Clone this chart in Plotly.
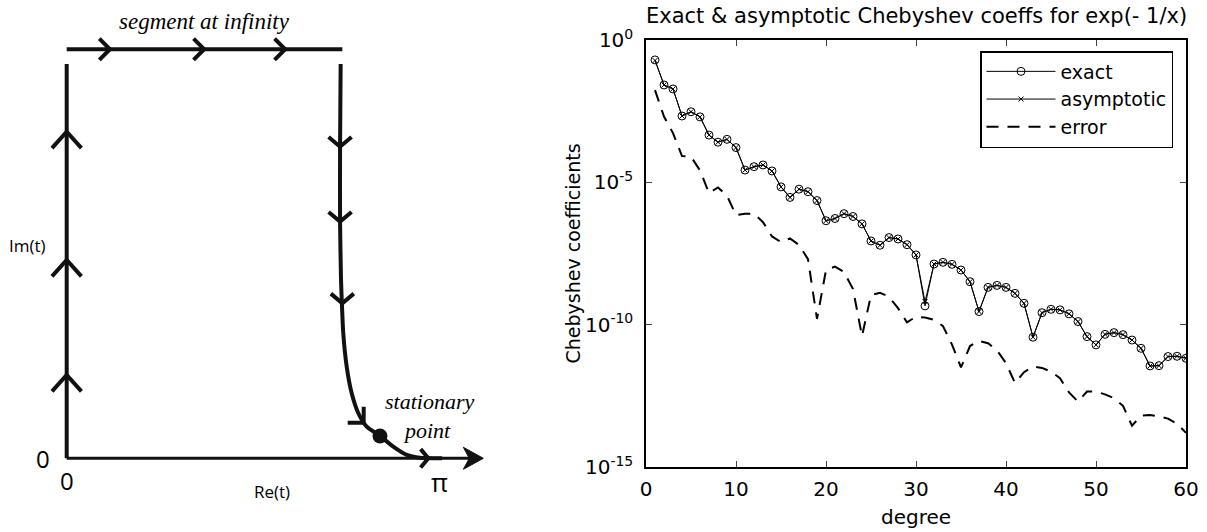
import math
import plotly.graph_objects as go

# ---------------- Right panel data (log10 of coefficient magnitudes) ----------------
degree = list(range(1, 61))
exact_log10 = [
    -0.70, -1.58, -1.72, -2.67, -2.52, -2.70, -3.34, -3.59, -3.49, -3.78,
    -4.57, -4.45, -4.39, -4.60, -5.16, -5.53, -5.24, -5.33, -5.64, -6.35,
    -6.27, -6.10, -6.20, -6.46, -7.06, -7.21, -6.94, -6.99, -7.19, -7.55,
    -9.34, -7.87, -7.81, -7.88, -8.08, -8.49, -9.54, -8.69, -8.62, -8.69,
    -8.90, -9.25, -10.44, -9.58, -9.46, -9.48, -9.62, -9.89, -10.42, -10.71,
    -10.34, -10.28, -10.35, -10.54, -10.83, -11.45, -11.44, -11.12, -11.11, -11.18,
]
asymptotic_log10 = [
    -0.72, -1.58, -1.72, -2.67, -2.52, -2.70, -3.34, -3.59, -3.49, -3.78,
    -4.57, -4.45, -4.39, -4.60, -5.16, -5.53, -5.24, -5.33, -5.64, -6.35,
    -6.27, -6.10, -6.20, -6.46, -7.06, -7.21, -6.94, -6.99, -7.19, -7.55,
    -9.19, -7.87, -7.81, -7.88, -8.08, -8.49, -9.54, -8.69, -8.62, -8.69,
    -8.90, -9.25, -10.44, -9.58, -9.46, -9.48, -9.62, -9.89, -10.42, -10.71,
    -10.34, -10.28, -10.35, -10.54, -10.83, -11.45, -11.44, -11.12, -11.11, -11.18,
]
error_log10 = [
    -1.76, -2.69, -3.27, -4.08, -4.10, -4.58, -5.38, -5.18, -5.47, -6.15,
    -6.10, -6.10, -6.40, -6.90, -7.10, -6.97, -7.20, -7.70, -9.80, -8.08,
    -7.96, -8.15, -8.75, -10.40, -8.96, -8.88, -9.02, -9.42, -9.92, -9.72,
    -9.75, -9.83, -10.05, -10.70, -11.50, -10.75, -10.57, -10.65, -10.90, -11.35,
    -12.05, -11.67, -11.47, -11.52, -11.65, -11.88, -12.38, -12.70, -12.35, -12.35,
    -12.45, -12.58, -12.85, -13.55, -13.20, -13.17, -13.22, -13.30, -13.48, -13.80,
]
exact = [10 ** v for v in exact_log10]
asymptotic = [10 ** v for v in asymptotic_log10]
error = [10 ** v for v in error_log10]

x_ticks = [0, 10, 20, 30, 40, 50, 60]
y_tick_exps = [-15, -10, -5, 0]

# ---------------- Left panel: contour schematic in the complex t-plane ----------------
left_edge_re = [0.0, 0.0]
left_edge_im = [0.0, 3.32]
top_edge_re = [0.0, 2.32]
top_edge_im = [3.443, 3.443]
real_axis_re = [0.0, 3.40]
real_axis_im = [0.0, 0.0]
real_axis_tip = (3.507, 0.0)
descent_re = [2.306, 2.301, 2.301, 2.309, 2.315, 2.328, 2.357, 2.399, 2.455, 2.525,
              2.637, 2.749, 2.862, 2.974, 3.160]
descent_im = [3.319, 2.620, 1.993, 1.505, 1.337, 1.052, 0.771, 0.547, 0.379, 0.266,
              0.188, 0.098, 0.028, 0.004, 0.0]
stationary_re = [2.637]
stationary_im = [0.188]
# arrow chevrons: (Re, Im, direction deg, arm length px, half-angle deg)
arrows = [
    (0.0, 2.749, 90, 22, 42), (0.0, 1.669, 90, 22, 42), (0.0, 0.701, 90, 22, 42),
    (0.364, 3.443, 0, 15, 45), (1.157, 3.443, 0, 15, 45), (1.839, 3.443, 0, 15, 45),
    (2.301, 2.623, -90, 15, 50), (2.301, 1.992, -90, 15, 50), (2.320, 1.305, -90, 15, 50),
    (2.500, 0.300, -45, 16, 45),
    (3.044, 0.0, 0, 12, 50),
]

PX = 118.8  # pixels per unit on the schematic axes
W, H = 1207, 532

fig = go.Figure()

# ---- right chart traces ----
SANS = "DejaVu Sans, Liberation Sans, Arial, sans-serif"
fig.add_trace(go.Scatter(
    x=degree, y=exact, mode="lines+markers", name="exact",
    line=dict(color="black", width=1),
    marker=dict(symbol="circle-open", size=8, color="black", line=dict(width=1)),
    xaxis="x", yaxis="y"))
fig.add_trace(go.Scatter(
    x=degree, y=asymptotic, mode="lines+markers", name="asymptotic",
    line=dict(color="black", width=1),
    marker=dict(symbol="x-thin", size=5, color="black", line=dict(width=1, color="black")),
    xaxis="x", yaxis="y"))
fig.add_trace(go.Scatter(
    x=degree, y=error, mode="lines", name="error",
    line=dict(color="black", width=2, dash="12px,9px"),
    xaxis="x", yaxis="y"))

# ---- left schematic traces ----
def seg_trace(xs, ys, width):
    return go.Scatter(x=xs, y=ys, mode="lines", line=dict(color="#111", width=width),
                      showlegend=False, hoverinfo="skip", xaxis="x2", yaxis="y2")

fig.add_trace(seg_trace(real_axis_re, real_axis_im, 3))
fig.add_trace(seg_trace(left_edge_re, left_edge_im, 4))
fig.add_trace(seg_trace(top_edge_re, top_edge_im, 4))
fig.add_trace(go.Scatter(x=descent_re, y=descent_im, mode="lines",
                         line=dict(color="#111", width=4, shape="spline", smoothing=0.6),
                         showlegend=False, hoverinfo="skip", xaxis="x2", yaxis="y2"))

# chevrons
cx, cy = [], []
for (re_, im_, d, arm, half) in arrows:
    a = arm / PX
    for sgn in (1, -1):
        ang = math.radians(d + 180 + sgn * half)
        if sgn == 1:
            cx += [re_ + a * math.cos(ang), re_]
            cy += [im_ + a * math.sin(ang), im_]
        else:
            cx += [re_ + a * math.cos(ang), None]
            cy += [im_ + a * math.sin(ang), None]
fig.add_trace(go.Scatter(x=cx, y=cy, mode="lines", line=dict(color="#111", width=4),
                         showlegend=False, hoverinfo="skip", xaxis="x2", yaxis="y2"))

# axis arrowhead (filled)
tx, ty = real_axis_tip
L, Wd, notch = 20 / PX, 11 / PX, 14 / PX
fig.add_trace(go.Scatter(
    x=[tx, tx - L, tx - notch, tx - L, tx], y=[ty, ty + Wd, ty, ty - Wd, ty],
    mode="lines", fill="toself", fillcolor="#111", line=dict(color="#111", width=1),
    showlegend=False, hoverinfo="skip", xaxis="x2", yaxis="y2"))

fig.add_trace(go.Scatter(x=stationary_re, y=stationary_im, mode="markers",
                         marker=dict(color="#111", size=15), showlegend=False,
                         hoverinfo="skip", xaxis="x2", yaxis="y2"))

# ---- layout ----
xd = [646 / W, 1186 / W]
yd = [1 - 467 / H, 1 - 40 / H]

fig.update_layout(
    width=W, height=H, margin=dict(l=0, r=0, t=0, b=0, autoexpand=False),
    paper_bgcolor="white", plot_bgcolor="white",
    font=dict(family=SANS, color="black", size=20),
    showlegend=True,
    legend=dict(x=1173 / W, y=1 - 51 / H, xanchor="right", yanchor="top",
                bgcolor="white", bordercolor="black", borderwidth=1.5,
                font=dict(family=SANS, size=19), itemwidth=69, tracegroupgap=0),
    xaxis=dict(domain=xd, range=[0, 60], tickvals=x_ticks, ticks="inside", ticklen=6,
               showline=True, linecolor="black", linewidth=1.5, mirror="ticks",
               showgrid=False, zeroline=False, tickfont=dict(size=20),
               ticklabelstandoff=3, anchor="y"),
    yaxis=dict(domain=yd, type="log", range=[-15, 0],
               tickvals=[10 ** e for e in y_tick_exps],
               ticktext=["10<sup>%d</sup>" % e for e in y_tick_exps],
               ticks="inside", ticklen=6, showline=True, linecolor="black",
               linewidth=1.5, mirror="ticks", showgrid=False, zeroline=False,
               tickfont=dict(size=20), ticklabelstandoff=7, anchor="x"),
    xaxis2=dict(domain=[0, 560 / W], range=[-66.7 / PX, (560 - 66.7) / PX],
                visible=False, anchor="y2"),
    yaxis2=dict(domain=[0, 1], range=[-73.7 / PX, (532 - 73.7) / PX],
                visible=False, anchor="x2"),
)

C = dict(xanchor="center", yanchor="middle", showarrow=False)
annotations = [
    # right chart texts
    dict(text="Exact & asymptotic Chebyshev coeffs for exp(- 1/x)", xref="paper", yref="paper",
         x=916 / W, y=1 - 16 / H, font=dict(size=21, family=SANS), **C),
    dict(text="degree", xref="paper", yref="paper", x=916 / W, y=1 - 517 / H,
         font=dict(size=20, family=SANS), **C),
    dict(text="Chebyshev coefficients", xref="paper", yref="paper", x=573 / W,
         y=1 - 253.5 / H, textangle=-90, font=dict(size=19, family=SANS), **C),
    # schematic labels
    dict(text="<i>segment at infinity</i>", xref="x2", yref="y2", x=1.156, y=3.673,
         font=dict(size=23, family="Liberation Serif, serif"), **C),
    dict(text="<i>stationary</i>", xref="x2", yref="y2", x=3.058, y=0.476,
         font=dict(size=22, family="Liberation Serif, serif"), **C),
    dict(text="<i>point</i>", xref="x2", yref="y2", x=3.030, y=0.238,
         font=dict(size=22, family="Liberation Serif, serif"), **C),
    dict(text="Im(t)", xref="x2", yref="y2", x=-0.334, y=1.795,
         font=dict(size=17, family="Open Sans, sans-serif"), **C),
    dict(text="Re(t)", xref="x2", yref="y2", x=1.728, y=-0.281,
         font=dict(size=17, family="Open Sans, sans-serif"), **C),
    dict(text="0", xref="x2", yref="y2", x=-0.20, y=0.0,
         font=dict(size=24, family="Open Sans, sans-serif"), **C),
    dict(text="0", xref="x2", yref="y2", x=0.0, y=-0.183,
         font=dict(size=24, family="Open Sans, sans-serif"), **C),
    dict(text="π", xref="x2", yref="y2", x=3.142, y=-0.197,
         font=dict(size=26, family="Open Sans, sans-serif"), **C),
]
fig.update_layout(annotations=annotations)

fig.write_html("out.html",
               post_script="document.body.style.margin='0';document.body.style.padding='0';"
                           "document.body.style.overflow='hidden';")
